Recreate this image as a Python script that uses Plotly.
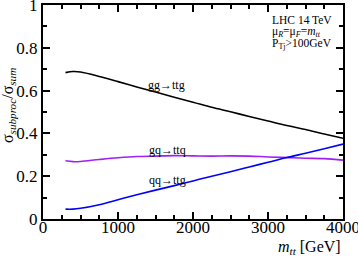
import plotly.graph_objects as go

mtt = [300, 400, 500, 750, 1000, 1250, 1500, 1750, 2000, 2250, 2500, 2750, 3000, 3250, 3500, 3750, 4000]
gg_ttg = [0.684, 0.689, 0.687, 0.666, 0.642, 0.617, 0.593, 0.569, 0.546, 0.522, 0.501, 0.479, 0.458, 0.437, 0.418, 0.397, 0.377]
gq_ttq = [0.272, 0.268, 0.269, 0.278, 0.286, 0.292, 0.294, 0.296, 0.295, 0.294, 0.295, 0.294, 0.290, 0.287, 0.284, 0.282, 0.275]
qq_ttg = [0.046, 0.046, 0.050, 0.067, 0.090, 0.113, 0.135, 0.156, 0.178, 0.200, 0.221, 0.243, 0.265, 0.287, 0.307, 0.328, 0.350]

x_ticks = [0, 1000, 2000, 3000, 4000]
y_ticks = [0, 0.2, 0.4, 0.6, 0.8, 1]
y_tick_labels = ["0", "0.2", "0.4", "0.6", "0.8", "1"]

FONT = "Liberation Serif"

fig = go.Figure()
fig.add_trace(go.Scatter(x=mtt, y=gg_ttg, mode="lines", line=dict(color="black", width=1.6, shape="spline"), name="gg→ttg"))
fig.add_trace(go.Scatter(x=mtt, y=gq_ttq, mode="lines", line=dict(color="#a020f0", width=1.6, shape="spline"), name="gq→ttq"))
fig.add_trace(go.Scatter(x=mtt, y=qq_ttg, mode="lines", line=dict(color="#0000ff", width=1.6, shape="spline"), name="qq→ttg"))

axis_common = dict(
    showline=True, linecolor="black", linewidth=2, mirror="allticks",
    ticks="inside", ticklen=7, tickwidth=1.5, tickcolor="black",
    showgrid=False, zeroline=False, ticklabeloverflow="allow", automargin=False,
    tickfont=dict(family=FONT, size=17, color="black"),
)

fig.update_xaxes(range=[0, 4000], tickvals=x_ticks, ticktext=[str(v) for v in x_ticks],
                 ticklabelstandoff=-8,
                 minor=dict(dtick=250, ticks="inside", ticklen=4, tickwidth=1.5, tickcolor="black", showgrid=False),
                 **axis_common)
fig.update_yaxes(range=[0, 1], tickvals=y_ticks, ticktext=y_tick_labels,
                 minor=dict(dtick=0.1, ticks="inside", ticklen=4, tickwidth=1.5, tickcolor="black", showgrid=False),
                 **axis_common)

ann_font = dict(family=FONT, size=12, color="black")
info_font = dict(family=FONT, size=11.5, color="black")
annotations = [
    dict(x=1650, y=0.626, xref="x", yref="y", text="gg→ttg", showarrow=False, font=ann_font),
    dict(x=1660, y=0.322, xref="x", yref="y", text="gq→ttq", showarrow=False, font=ann_font),
    dict(x=1660, y=0.182, xref="x", yref="y", text="qq→ttg", showarrow=False, font=ann_font),
    dict(x=0.757, y=0.930, xref="paper", yref="paper", xanchor="left", yanchor="middle",
         text="LHC 14 TeV", showarrow=False, font=info_font),
    dict(x=0.757, y=0.872, xref="paper", yref="paper", xanchor="left", yanchor="middle",
         text="μ<sub><i>R</i></sub>=μ<sub><i>F</i></sub>=<i>m</i><sub><i>tt</i></sub>", showarrow=False, font=info_font),
    dict(x=0.757, y=0.818, xref="paper", yref="paper", xanchor="left", yanchor="middle",
         text="P<sub>Tj</sub>&gt;100GeV", showarrow=False, font=info_font),
    dict(x=1.0, y=-0.131, xref="paper", yref="paper", xanchor="right", yanchor="middle",
         text="<i>m</i><sub><i>tt</i></sub> [GeV]", showarrow=False, font=dict(family=FONT, size=16, color="black")),
    dict(x=-0.115, y=0.53, xref="paper", yref="paper", xanchor="center", yanchor="middle", textangle=-90,
         text="σ<sub><i>subproc</i></sub>/σ<sub><i>sum</i></sub>", showarrow=False,
         font=dict(family=FONT, size=16, color="black")),
]

fig.update_layout(
    width=358, height=257,
    margin=dict(l=43, r=15, t=5, b=38, autoexpand=False),
    paper_bgcolor="white", plot_bgcolor="white",
    showlegend=False,
    annotations=annotations,
    font=dict(family=FONT, color="black"),
)

fig.write_html("out.html", config={"displayModeBar": False},
               post_script="document.body.style.margin='0';document.body.style.padding='0';")
